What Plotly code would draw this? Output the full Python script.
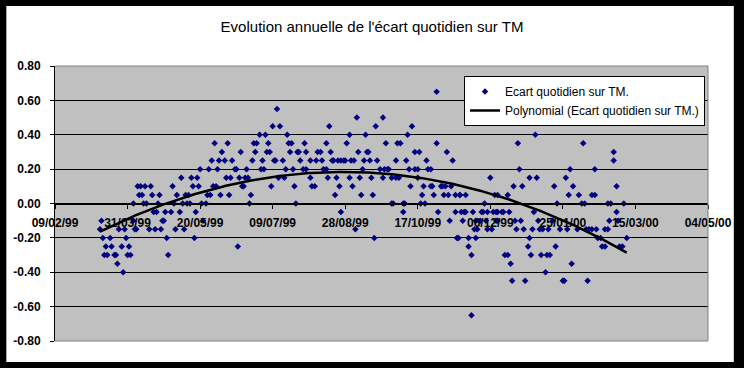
import numpy as np
import pandas as pd
import plotly.graph_objects as go

# ---- data: observation day (counted from 09/02/99) and daily deviation on TM ----
start_date = "1999-02-09"

day_spring = [31, 32, 33, 34, 35, 36, 38, 39, 41, 42,
              43, 44, 46, 47, 48, 49, 50, 51, 52, 54,
              54, 55, 56, 57, 58, 59, 60, 61, 62, 63,
              65, 66, 67, 68, 69, 70, 71, 72, 73, 74,
              75, 76, 77, 78, 80, 81, 82, 83, 84, 86,
              87, 88, 89, 90, 91, 92, 93, 94, 95, 96,
              97, 98]
ecart_spring = [-0.15, -0.10, -0.20, -0.30, -0.25, -0.30, -0.20, -0.25, -0.30, -0.30,
                -0.35, -0.15, -0.25, -0.40, -0.15, -0.20, -0.30, -0.25, -0.30, -0.10,
                0.00, -0.15, -0.15, 0.10, 0.05, 0.10, 0.05, 0.00, 0.10, 0.00,
                -0.15, 0.10, 0.05, -0.05, -0.15, -0.05, 0.00, 0.05, -0.15, -0.10,
                -0.10, -0.05, -0.20, -0.30, -0.05, 0.10, 0.00, -0.15, 0.05, -0.05,
                0.15, 0.00, -0.15, 0.05, 0.00, 0.05, 0.00, 0.15, 0.10, -0.20,
                -0.05, 0.15]

day_early_summer = [99, 100, 101, 102, 104, 105, 106, 107, 108, 109,
                    110, 111, 112, 113, 114, 115, 117, 118, 119, 120,
                    121, 122, 124, 125, 126, 127, 128, 129, 130, 131,
                    132, 133, 134, 135, 136, 137, 138, 139, 141, 142,
                    143, 144, 145, 146, 147, 148, 149, 150, 151, 152,
                    153, 154, 155, 157, 158, 159, 160, 161, 162, 163,
                    164, 165, 166, 167, 168, 169, 171, 172]
ecart_early_summer = [0.10, 0.20, 0.00, -0.10, 0.00, 0.05, 0.20, 0.05, 0.25, 0.10,
                      0.35, 0.10, 0.20, 0.25, 0.05, 0.30, 0.25, 0.15, 0.35, 0.05,
                      0.15, 0.25, 0.20, 0.20, -0.25, 0.15, 0.30, 0.10, 0.10, 0.15,
                      0.20, 0.15, 0.00, 0.05, 0.25, 0.35, 0.30, 0.35, 0.40, 0.20,
                      0.25, 0.20, 0.40, 0.30, 0.35, 0.30, 0.10, 0.45, 0.25, 0.25,
                      0.55, 0.15, 0.45, 0.25, 0.15, 0.20, 0.40, 0.35, 0.30, 0.35,
                      0.20, 0.10, 0.00, 0.30, 0.30, 0.25, 0.20, 0.35]

day_late_summer = [173, 173, 176, 176, 177, 179, 180, 181, 183, 184,
                   185, 187, 187, 188, 189, 190, 191, 192, 193, 194,
                   195, 196, 197, 197, 199, 200, 201, 203, 203, 204,
                   205, 206, 207, 208, 209, 210, 211, 212, 213, 214,
                   215, 216, 217, 218, 219, 220, 221, 222, 224, 226,
                   226, 227, 228, 229, 230, 232, 232, 233, 235, 235,
                   236, 237, 238, 240, 240, 241, 242, 243, 244]
ecart_late_summer = [0.20, 0.30, 0.25, 0.15, 0.10, 0.10, 0.25, 0.30, 0.30, 0.25,
                     0.20, 0.35, 0.20, 0.15, 0.45, 0.30, 0.25, 0.25, 0.05, 0.15,
                     0.25, 0.10, 0.25, -0.05, 0.25, 0.25, 0.35, 0.15, 0.40, 0.25,
                     0.10, 0.25, -0.15, 0.50, 0.30, 0.15, 0.05, 0.20, 0.25, 0.40,
                     0.30, 0.30, 0.25, 0.15, 0.05, -0.20, 0.45, 0.25, 0.20, 0.15,
                     0.50, 0.20, 0.35, 0.20, 0.20, 0.00, 0.15, 0.00, 0.15, 0.25,
                     0.35, 0.15, 0.35, 0.00, -0.05, 0.00, 0.25, 0.40, 0.20]

day_autumn = [245, 246, 248, 248, 250, 250, 251, 252, 253, 254,
              255, 256, 257, 259, 259, 260, 261, 263, 263, 264,
              266, 267, 268, 269, 270, 271, 272, 273, 274, 276,
              276, 277, 278, 279, 279, 280, 281, 282, 283, 283,
              285, 285, 287, 287, 288, 289, 290, 290, 291, 293,
              294, 295, 296, 297, 298, 298, 300, 301, 302, 303,
              304, 304, 305, 305, 305, 308, 309, 310, 312, 312,
              313, 314, 315, 316]
ecart_autumn = [0.10, 0.45, 0.20, 0.30, 0.15, 0.20, 0.30, 0.00, 0.05, 0.10,
                0.00, 0.25, 0.20, 0.20, 0.10, 0.10, 0.05, 0.35, 0.65, -0.05,
                0.10, 0.10, 0.05, 0.10, 0.30, 0.05, -0.10, 0.10, 0.25, -0.05,
                0.05, -0.20, -0.20, 0.05, 0.05, -0.05, -0.10, -0.05, -0.05, 0.05,
                -0.20, -0.25, -0.65, -0.30, -0.05, -0.15, -0.20, -0.10, -0.15, -0.10,
                -0.05, -0.05, 0.00, -0.10, -0.15, -0.05, 0.15, -0.15, -0.05, 0.05,
                -0.05, -0.10, -0.05, -0.10, 0.05, -0.05, -0.05, -0.30, -0.30, 0.05,
                -0.05, -0.35, -0.45, 0.10]

day_winter = [317, 318, 319, 320, 321, 322, 323, 324, 326, 327,
              327, 328, 329, 330, 331, 332, 333, 334, 335, 336,
              338, 339, 340, 341, 343, 344, 345, 346, 348, 350,
              351, 352, 353, 354, 355, 356, 357, 360, 361, 363,
              364, 365, 366, 367, 368, 370, 370, 372, 372, 373,
              374, 376, 377, 379, 379, 381, 381, 382, 383, 385,
              385, 387, 387, 388, 389, 391, 392, 394]
ecart_winter = [-0.10, -0.15, 0.35, 0.20, -0.10, 0.10, -0.15, -0.45, -0.25, 0.15,
                -0.20, -0.30, -0.15, -0.05, 0.40, 0.15, -0.10, -0.15, -0.30, -0.15,
                -0.40, -0.30, -0.15, -0.30, -0.10, 0.10, -0.25, 0.00, -0.15, -0.45,
                -0.45, 0.15, -0.15, 0.05, 0.20, -0.35, 0.10, -0.15, 0.05, 0.00,
                0.35, 0.00, -0.15, -0.45, -0.15, -0.15, 0.05, 0.20, 0.05, -0.15,
                -0.20, -0.20, -0.25, -0.15, -0.25, -0.15, 0.00, -0.10, 0.00, 0.30,
                0.25, 0.10, -0.05, -0.10, -0.25, -0.25, 0.00, -0.20]

x_tick_every_days = 50
x_axis_end = "2000-05-04"
y_tick_values = [-0.8, -0.6, -0.4, -0.2, 0.0, 0.2, 0.4, 0.6, 0.8]
y_tick_labels = ["-0.80", "-0.60", "-0.40", "-0.20", "0.00", "0.20", "0.40", "0.60", "0.80"]

title_text = "Evolution annuelle de l'écart quotidien sur TM"
series_name = "Ecart quotidien sur TM."
trend_name = "Polynomial (Ecart quotidien sur TM.)"

# ---- assemble ----
days = np.array(day_spring + day_early_summer + day_late_summer + day_autumn + day_winter, dtype=float)
ecart = np.array(ecart_spring + ecart_early_summer + ecart_late_summer + ecart_autumn + ecart_winter)
base = pd.Timestamp(start_date)
dates = base + pd.to_timedelta(days, unit="D")

# Excel-like polynomial (order 2) trendline fitted to the series
coef = np.polyfit(days, ecart, 2)
trend_days = np.arange(days.min(), days.max() + 1)
trend_dates = base + pd.to_timedelta(trend_days, unit="D")
trend_vals = np.polyval(coef, trend_days)

FONT = "Liberation Sans, Arial, sans-serif"

fig = go.Figure()
fig.add_trace(go.Scatter(
    x=dates, y=ecart, mode="markers", name=series_name,
    marker=dict(symbol="diamond", size=5, color="#000080",
                line=dict(width=0)),
))
fig.add_trace(go.Scatter(
    x=trend_dates, y=trend_vals, mode="lines", name=trend_name,
    line=dict(color="black", width=2.5),
))

W, H = 744, 368
ml, mr, mt, mb = 55, 32, 66, 27
pw, ph = W - ml - mr, H - mt - mb

fig.update_layout(
    width=W, height=H,
    margin=dict(l=ml, r=mr, t=mt, b=mb, pad=0),
    paper_bgcolor="white",
    plot_bgcolor="#C0C0C0",
    font=dict(family=FONT, color="black"),
    title=dict(text=title_text, x=0.5, xanchor="center", xref="container",
               y=1 - 27 / H, yanchor="middle", yref="container",
               font=dict(family=FONT, size=15, color="black")),
    showlegend=True,
    legend=dict(x=(709 - ml) / pw, xanchor="right", y=(H - mb - 76) / ph, yanchor="top",
                bgcolor="white", bordercolor="black", borderwidth=1,
                font=dict(family=FONT, size=12, color="black"),
                tracegroupgap=0),
    xaxis=dict(
        type="date",
        range=[start_date, x_axis_end],
        tick0=start_date, dtick=x_tick_every_days * 86400000,
        tickformat="%d/%m/%y",
        anchor="free", position=0.5,
        showline=True, linecolor="black", linewidth=1,
        ticks="outside", ticklen=4, tickcolor="black",
        showgrid=False, zeroline=False,
        tickfont=dict(family=FONT, size=12, color="black", weight="bold"),
        ticklabelstandoff=4,
    ),
    yaxis=dict(
        range=[-0.8, 0.8],
        tickvals=y_tick_values, ticktext=y_tick_labels,
        showgrid=True, gridcolor="black", gridwidth=1,
        zeroline=True, zerolinecolor="black", zerolinewidth=1,
        showline=True, linecolor="black", linewidth=1,
        ticks="outside", ticklen=4, tickcolor="black",
        tickfont=dict(family=FONT, size=12, color="black", weight="bold"),
        ticklabelstandoff=7,
    ),
    shapes=[
        # grey plot-area frame (top, right, bottom)
        dict(type="path", xref="paper", yref="paper",
             path="M 0,1 L 1,1 L 1,0 L 0,0", line=dict(color="#808080", width=1),
             layer="above"),
        # black outer chart border
        dict(type="rect", xref="paper", yref="paper",
             x0=-ml / pw, x1=(W - ml) / pw, y0=-mb / ph, y1=(H - mb) / ph,
             line=dict(color="black", width=12), fillcolor="rgba(0,0,0,0)",
             layer="above"),
    ],
)

fig.write_html("out.html",
               config={"displayModeBar": False},
               post_script="document.body.style.margin='0px';document.body.style.padding='0px';")
